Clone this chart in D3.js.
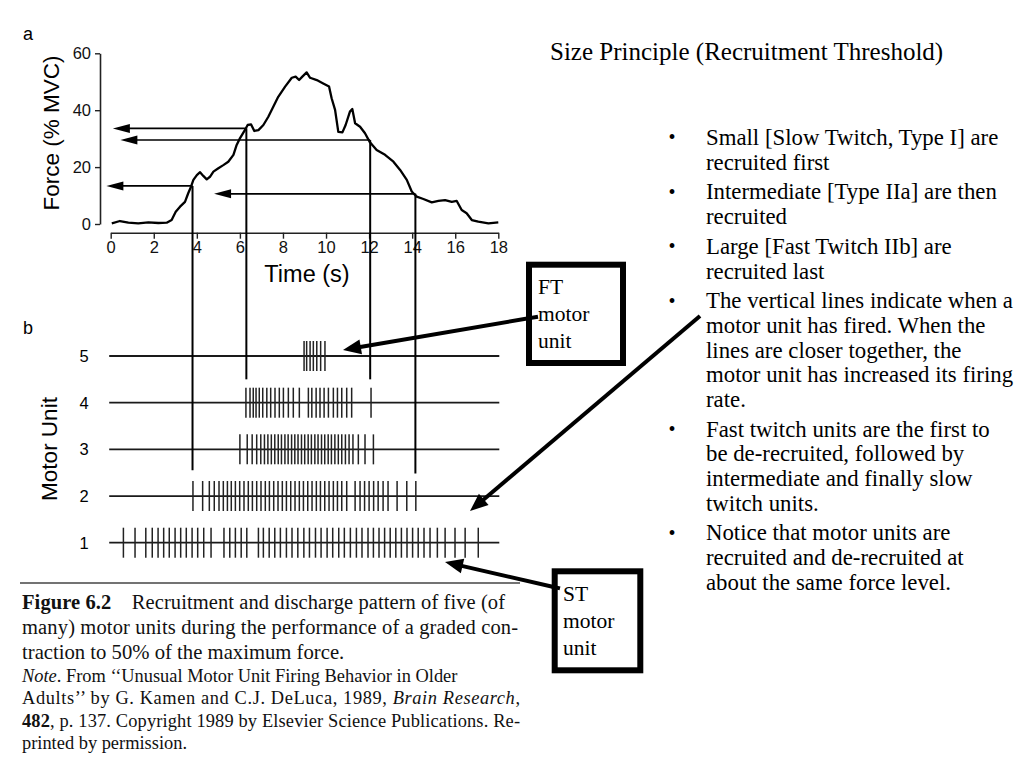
<!DOCTYPE html>
<html>
<head>
<meta charset="utf-8">
<script src="https://cdn.jsdelivr.net/npm/d3@7/dist/d3.min.js"></script>
<style>
  body { margin: 0; background: #fff; }
  svg { display: block; }
</style>
</head>
<body>
<div id="chart"></div>
<script>
// ---- panel a: force trace ----
var forceTime = [0.05, 0.43, 0.82, 1.28, 1.75, 2.21, 2.6, 2.83, 3.02, 3.22, 3.45, 3.6, 3.73, 3.84, 4.0, 4.15, 4.3, 4.46,
  4.61, 4.77, 5.0, 5.23, 5.46, 5.7, 5.85, 6.0, 6.21, 6.36, 6.52, 6.67, 6.86, 7.09, 7.32, 7.55, 7.78, 8.1, 8.41, 8.59,
  8.75, 8.9, 9.1, 9.26, 9.57, 9.87, 10.14, 10.26, 10.42, 10.57, 10.76, 10.91, 11.11, 11.22, 11.35, 11.58, 11.81, 12.04,
  12.35, 12.74, 13.13, 13.44, 13.75, 13.98, 14.21, 14.52, 14.91, 15.22, 15.53, 15.84, 16.07, 16.3, 16.53, 16.77, 17.07,
  17.54, 18.0];
var forceValue = [0.25, 1.05, 0.46, 0.25, 0.6, 0.35, 0.46, 1.4, 4.3, 6.1, 7.8, 10.8, 13.1, 15.5, 17.2, 18.2, 16.9, 15.7,
  16.6, 18.4, 19.6, 20.7, 21.9, 24.3, 27.8, 30.1, 32.7, 34.8, 35, 32.7, 33, 34.8, 37.7, 41.2, 44.7, 48.3, 51.4, 51.8,
  50.6, 51.8, 53.3, 51.4, 50.6, 49.4, 48.3, 44.2, 40.1, 32.4, 32.2, 34.8, 39.5, 40.4, 35.4, 34.2, 31.9, 28.7,
  26, 24.3, 21.9, 19, 15.5, 11.4, 9.6, 8.8, 7.6, 8.1, 8.4, 7.8, 8.1, 4.9, 3.8, 1.4, 0.8,
  0.25, 0.6];
var forceTicks = [0, 20, 40, 60];
var timeTicks = [0, 2, 4, 6, 8, 10, 12, 14, 16, 18];

// recruitment / de-recruitment markers
var markerTime = [3.8, 6.3, 12.05, 14.15];
var markerForce = [13.4, 33.6, 29.5, 10.6];
var markerEndUnit = [2.55, 4.5, 4.5, 2.48];
var markerArrowTip = [-0.2, 0.1, 0.45, 4.8];

// ---- panel b: spike trains ----
var units = [1, 2, 3, 4, 5];
var unit1Spikes = [0.59, 1.13, 1.63, 1.93, 2.2, 2.46, 2.72, 2.99, 3.25, 3.51, 3.78, 4.04, 4.32, 4.66,
  5.26, 5.53, 5.79, 6.06, 6.32,
  6.86, 7.09, 7.36, 7.62, 7.88, 8.16, 8.42, 8.69, 8.97, 9.23, 9.51, 9.77, 10.05, 10.31, 10.59, 10.85, 11.13, 11.41, 11.67,
  11.95, 12.2, 12.46, 12.72, 12.98, 13.24, 13.5, 13.76, 14.02, 14.28, 14.55, 14.83, 15.17, 15.53, 15.99, 16.46, 17.07];
var unit2Spikes = [3.82, 4.27, 4.58, 4.81, 5.03, 5.23, 5.42, 5.6, 5.79, 5.99, 6.19, 6.39, 6.58, 6.78, 6.98, 7.18, 7.37,
  7.57, 7.77, 7.97, 8.16, 8.36, 8.56, 8.76, 8.95, 9.15, 9.35, 9.55, 9.74, 9.94, 10.14, 10.34, 10.53, 10.73, 10.96,
  11.35, 11.58, 11.79, 12.0, 12.21, 12.42, 12.65, 12.88, 13.3, 13.75, 14.17];
var unit3Spikes = [6.0, 6.34, 6.57, 6.78, 6.97, 7.14, 7.3, 7.46, 7.62, 7.78, 7.93, 8.09, 8.24, 8.4, 8.55, 8.7, 8.86,
  9.01, 9.17, 9.32, 9.48, 9.63, 9.79, 9.94, 10.1, 10.25, 10.41, 10.57, 10.73, 10.9, 11.07, 11.25, 11.5, 11.81, 12.2];
var unit4Spikes = [6.28, 6.47, 6.62, 6.75, 6.9, 7.06, 7.25, 7.43, 7.63, 7.83, 8.02, 8.25, 8.48, 8.76,
  9.18, 9.34, 9.54, 9.72, 9.91, 10.11, 10.34, 10.53, 10.73, 10.96, 11.19, 12.09];
var unit5Spikes = [8.98, 9.1, 9.26, 9.41, 9.57, 9.75, 9.95];
var spikeTrains = [unit1Spikes, unit2Spikes, unit3Spikes, unit4Spikes, unit5Spikes];

// ---- slide text ----
var slideTitle = "Size Principle (Recruitment Threshold)";
var bullets = [
  ["Small [Slow Twitch, Type I] are", "recruited first"],
  ["Intermediate [Type IIa] are then", "recruited"],
  ["Large [Fast Twitch IIb] are", "recruited last"],
  ["The vertical lines indicate when a", "motor unit has fired. When the", "lines are closer together, the",
    "motor unit has increased its firing", "rate."],
  ["Fast twitch units are the first to", "be de-recruited, followed by", "intermediate and finally slow", "twitch units."],
  ["Notice that motor units are", "recruited and de-recruited at", "about the same force level."]
];
var ftLabel = ["FT", "motor", "unit"];
var stLabel = ["ST", "motor", "unit"];

var SANS = "'Liberation Sans', Arial, sans-serif";
var SERIF = "'Liberation Serif', 'Times New Roman', serif";

var svg = d3.select("#chart").append("svg")
  .attr("width", 1024)
  .attr("height", 768)
  .style("background", "#fff");

var x = d3.scaleLinear().domain([0, 18]).range([110.7, 498.3]);
var yForce = d3.scaleLinear().domain([0, 60]).range([224, 53.3]);
var yUnit = d3.scaleLinear().domain([1, 5]).range([542.7, 356]);

function arrowHead(g, x1, y1, x2, y2, len, half) {
  // filled triangle with its tip at (x2, y2)
  var a = Math.atan2(y2 - y1, x2 - x1);
  var bx = x2 - len * Math.cos(a), by = y2 - len * Math.sin(a);
  var px = -Math.sin(a) * half, py = Math.cos(a) * half;
  g.append("path")
    .attr("d", "M" + x2 + "," + y2 + "L" + (bx + px) + "," + (by + py) + "L" + (bx - px) + "," + (by - py) + "Z")
    .attr("fill", "#000");
}

function arrow(g, x1, y1, x2, y2, width, len, half) {
  var a = Math.atan2(y2 - y1, x2 - x1);
  g.append("line")
    .attr("x1", x1).attr("y1", y1)
    .attr("x2", x2 - (len - 2) * Math.cos(a)).attr("y2", y2 - (len - 2) * Math.sin(a))
    .attr("stroke", "#000").attr("stroke-width", width);
  arrowHead(g, x1, y1, x2, y2, len, half);
}

// ---- panel a ----
var gA = svg.append("g");

gA.append("text").text("a")
  .attr("x", 23).attr("y", 40)
  .attr("font-family", SANS).attr("font-size", 18);

var yAxis = gA.append("g")
  .attr("transform", "translate(100,0)")
  .call(d3.axisLeft(yForce).tickValues(forceTicks).tickSize(5).tickSizeOuter(0).tickPadding(4));

var xAxis = gA.append("g")
  .attr("transform", "translate(0,232.7)")
  .call(d3.axisBottom(x).tickValues(timeTicks).tickSize(6).tickSizeOuter(0).tickPadding(3));

[yAxis, xAxis].forEach(function (ax) {
  ax.select(".domain").attr("stroke", "#222").attr("stroke-width", 1.6);
  ax.selectAll(".tick line").attr("stroke", "#222").attr("stroke-width", 1.4);
  ax.selectAll(".tick text")
    .attr("font-family", SANS).attr("font-size", 16.5).attr("fill", "#111");
});

gA.append("text").text("Time (s)")
  .attr("x", 307).attr("y", 282)
  .attr("text-anchor", "middle")
  .attr("font-family", SANS).attr("font-size", 23.5);

gA.append("text").text("Force (% MVC)")
  .attr("transform", "translate(59,133) rotate(-90)")
  .attr("text-anchor", "middle")
  .attr("font-family", SANS).attr("font-size", 22.5);

var forceLine = d3.line()
  .x(function (d, i) { return x(forceTime[i]); })
  .y(function (d) { return yForce(d); });

gA.append("path")
  .datum(forceValue)
  .attr("d", forceLine)
  .attr("fill", "none")
  .attr("stroke", "#000")
  .attr("stroke-width", 2.3)
  .attr("stroke-linejoin", "round");

// ---- panel b ----
var gB = svg.append("g");

gB.append("text").text("b")
  .attr("x", 23).attr("y", 334)
  .attr("font-family", SANS).attr("font-size", 18);

gB.append("text").text("Motor Unit")
  .attr("transform", "translate(57,449) rotate(-90)")
  .attr("text-anchor", "middle")
  .attr("font-family", SANS).attr("font-size", 22.5);

var rows = gB.selectAll(".row")
  .data(units)
  .enter().append("g")
  .attr("class", "row")
  .attr("transform", function (d) { return "translate(0," + yUnit(d) + ")"; });

rows.append("text")
  .text(function (d) { return d; })
  .attr("x", 84).attr("dy", "0.36em")
  .attr("text-anchor", "middle")
  .attr("font-family", SANS).attr("font-size", 16.5);

rows.append("line")
  .attr("x1", x(0) - 1.5).attr("x2", x(18) + 1)
  .attr("stroke", "#1a1a1a").attr("stroke-width", 1.8);

rows.selectAll(".spike")
  .data(function (d) { return spikeTrains[d - 1]; })
  .enter().append("line")
  .attr("class", "spike")
  .attr("x1", function (d) { return x(d); })
  .attr("x2", function (d) { return x(d); })
  .attr("y1", -15).attr("y2", 15)
  .attr("stroke", "#222").attr("stroke-width", 1.5);

// vertical threshold markers and horizontal arrows back to the force axis
var gM = svg.append("g");
markerTime.forEach(function (t, i) {
  gM.append("line")
    .attr("x1", x(t)).attr("x2", x(t))
    .attr("y1", yForce(markerForce[i])).attr("y2", yUnit(markerEndUnit[i]))
    .attr("stroke", "#000").attr("stroke-width", 2);
  arrow(gM, x(t), yForce(markerForce[i]), x(markerArrowTip[i]), yForce(markerForce[i]), 1.6, 17, 4.5);
});

// ---- caption ----
var gC = svg.append("g").attr("font-family", SERIF).attr("fill", "#111");

gC.append("line")
  .attr("x1", 20).attr("x2", 520).attr("y1", 583).attr("y2", 583)
  .attr("stroke", "#444").attr("stroke-width", 1.6);

var cap1 = gC.append("text").attr("x", 22).attr("y", 609).attr("font-size", 20.5)
  .attr("textLength", 483).attr("lengthAdjust", "spacing");
cap1.append("tspan").attr("font-weight", "bold").text("Figure 6.2");
cap1.append("tspan").text("\u2003Recruitment and discharge pattern of five (of");

gC.append("text").attr("x", 22).attr("y", 634).attr("font-size", 20.5)
  .attr("textLength", 496).attr("lengthAdjust", "spacing")
  .text("many) motor units during the performance of a graded con-");
gC.append("text").attr("x", 22).attr("y", 659).attr("font-size", 20.7)
  .text("traction to 50% of the maximum force.");

var n1 = gC.append("text").attr("x", 22).attr("y", 682).attr("font-size", 18.4);
n1.append("tspan").attr("font-style", "italic").text("Note");
n1.append("tspan").text(". From \u2018\u2018Unusual Motor Unit Firing Behavior in Older");

var n2 = gC.append("text").attr("x", 22).attr("y", 704).attr("font-size", 18.4)
  .attr("textLength", 498).attr("lengthAdjust", "spacing");
n2.append("tspan").text("Adults\u2019\u2019 by G. Kamen and C.J. DeLuca, 1989, ");
n2.append("tspan").attr("font-style", "italic").text("Brain Research");
n2.append("tspan").text(",");

var n3 = gC.append("text").attr("x", 22).attr("y", 727).attr("font-size", 18.4)
  .attr("textLength", 498).attr("lengthAdjust", "spacing");
n3.append("tspan").attr("font-weight", "bold").text("482");
n3.append("tspan").text(", p. 137. Copyright 1989 by Elsevier Science Publications. Re-");

gC.append("text").attr("x", 22).attr("y", 749).attr("font-size", 18.4)
  .text("printed by permission.");

// ---- right side: title and bullets ----
var gT = svg.append("g").attr("font-family", SERIF).attr("fill", "#000");

gT.append("text").text(slideTitle)
  .attr("x", 550).attr("y", 60)
  .attr("font-size", 25);

var lineY = 137;
bullets.forEach(function (lines) {
  gT.append("text").text("\u2022")
    .attr("x", 672).attr("y", lineY).attr("dy", "0.35em")
    .attr("text-anchor", "middle")
    .attr("font-size", 20);
  lines.forEach(function (s) {
    gT.append("text").text(s)
      .attr("x", 706).attr("y", lineY).attr("dy", "0.35em")
      .attr("font-size", 22.8);
    lineY += 24.6;
  });
  lineY += 5.3;
});

// ---- labelled boxes with thick arrows ----
var gL = svg.append("g");

function labelBox(x0, y0, w, h, lines, tx, ty) {
  gL.append("rect")
    .attr("x", x0).attr("y", y0).attr("width", w).attr("height", h)
    .attr("fill", "#fff").attr("stroke", "#000").attr("stroke-width", 6);
  lines.forEach(function (s, i) {
    gL.append("text").text(s)
      .attr("x", tx).attr("y", ty + i * 27).attr("dy", "0.35em")
      .attr("font-family", SERIF).attr("font-size", 21.5);
  });
}

arrow(gL, 536, 317, 343, 350, 4, 18, 7.5);
arrow(gL, 700, 316, 470, 511, 4, 18, 7.5);
arrow(gL, 558, 588, 445, 562, 4, 18, 7.5);

labelBox(529, 264.7, 94, 98.3, ftLabel, 538, 286);
labelBox(554.7, 571.3, 85.6, 99, stLabel, 563, 593);

// arrow tails that start on the box text
gL.append("line").attr("x1", 528).attr("y1", 318.4).attr("x2", 538).attr("y2", 316.7)
  .attr("stroke", "#000").attr("stroke-width", 4);
gL.append("line").attr("x1", 552).attr("y1", 586.6).attr("x2", 560).attr("y2", 588.4)
  .attr("stroke", "#000").attr("stroke-width", 4);
</script>
</body>
</html>
